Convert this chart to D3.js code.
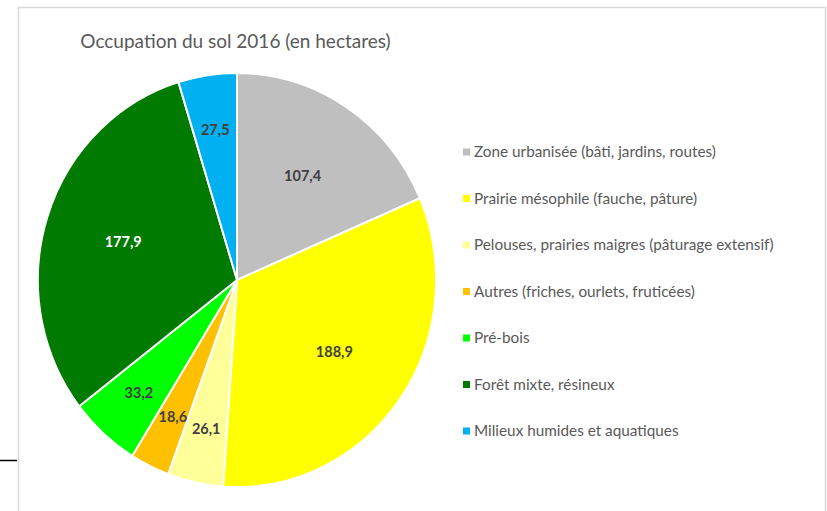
<!DOCTYPE html>
<html>
<head>
<meta charset="utf-8">
<script src="https://cdn.jsdelivr.net/npm/d3@7"></script>
<style>
  body { margin: 0; background: #fff; }
  text { font-family: Lato, "Open Sans", sans-serif; }
</style>
</head>
<body>
<div id="chart"></div>
<script>
// values (hectares)
var categories = [
    "Zone urbanisée (bâti, jardins, routes)",
    "Prairie mésophile (fauche, pâture)",
    "Pelouses, prairies maigres (pâturage extensif)",
    "Autres (friches, ourlets, fruticées)",
    "Pré-bois",
    "Forêt mixte, résineux",
    "Milieux humides et aquatiques"
];
var values = [107.4, 188.9, 26.1, 18.6, 33.2, 177.9, 27.5];
var colors = ["#BFBFBF", "#FFFF00", "#FFFF99", "#FFC000", "#00FF00", "#007A00", "#00B0F0"];
var labelColors = ["#404040", "#404040", "#404040", "#404040", "#404040", "#FFFFFF", "#404040"];

var width = 827, height = 511;
var cx = 237, cy = 280;
var rx = 199, ry = 207;

var svg = d3.select("#chart").append("svg")
    .attr("width", width)
    .attr("height", height);

// chart frame
svg.append("rect")
    .attr("x", 18.5).attr("y", 7.5)
    .attr("width", 807).attr("height", 520)
    .attr("fill", "#fff")
    .attr("stroke", "#D9D9D9")
    .attr("stroke-width", 1.5);

svg.append("line")
    .attr("x1", 0).attr("x2", 17)
    .attr("y1", 460.5).attr("y2", 460.5)
    .attr("stroke", "#000")
    .attr("stroke-width", 1.5);

svg.append("text")
    .attr("x", 235.5).attr("y", 48)
    .attr("text-anchor", "middle")
    .attr("fill", "#595959")
    .attr("font-size", "19px")
    .text("Occupation du sol 2016 (en hectares)");

var data = categories.map(function(c, i){
    return {name: c, value: values[i], color: colors[i], label: labelColors[i]};
});

var pie = d3.pie().sort(null).value(function(d){ return d.value; });
var arcs = pie(data);
var arc = d3.arc().innerRadius(0).outerRadius(1);

var g = svg.append("g")
    .attr("transform", "translate(" + cx + "," + cy + ") scale(" + rx + "," + ry + ")");

g.selectAll("path")
    .data(arcs)
    .enter()
    .append("path")
    .attr("d", arc)
    .attr("fill", function(d){ return d.data.color; })
    .attr("stroke", "#fff")
    .attr("stroke-width", 2)
    .attr("vector-effect", "non-scaling-stroke");

// data labels: big slices inside, thin ones pushed outward
function labelPos(d){
    var span = d.endAngle - d.startAngle;
    var k = span < 0.45 ? 0.735 : 0.6;
    var a = (d.startAngle + d.endAngle) / 2;
    return [cx + Math.sin(a) * rx * k, cy - Math.cos(a) * ry * k];
}

svg.selectAll("text.val")
    .data(arcs)
    .enter()
    .append("text")
    .attr("class", "val")
    .attr("x", function(d){ return labelPos(d)[0]; })
    .attr("y", function(d){ return labelPos(d)[1]; })
    .attr("dy", "0.35em")
    .attr("text-anchor", "middle")
    .attr("font-size", "14.5px")
    .attr("font-weight", "bold")
    .attr("fill", function(d){ return d.data.label; })
    .text(function(d){ return d3.format(".1f")(d.data.value).replace(".", ","); });

// legend
var ly = d3.scalePoint().domain(categories).range([152, 431]);

var legend = svg.selectAll("g.leg")
    .data(data)
    .enter()
    .append("g")
    .attr("class", "leg")
    .attr("transform", function(d){ return "translate(463," + ly(d.name) + ")"; });

legend.append("rect")
    .attr("x", 0).attr("y", -3.5)
    .attr("width", 7).attr("height", 7)
    .attr("fill", function(d){ return d.color; });

legend.append("text")
    .attr("x", 11).attr("y", 0)
    .attr("dy", "0.35em")
    .attr("fill", "#595959")
    .attr("font-size", "15.3px")
    .text(function(d){ return d.name; });
</script>
</body>
</html>
